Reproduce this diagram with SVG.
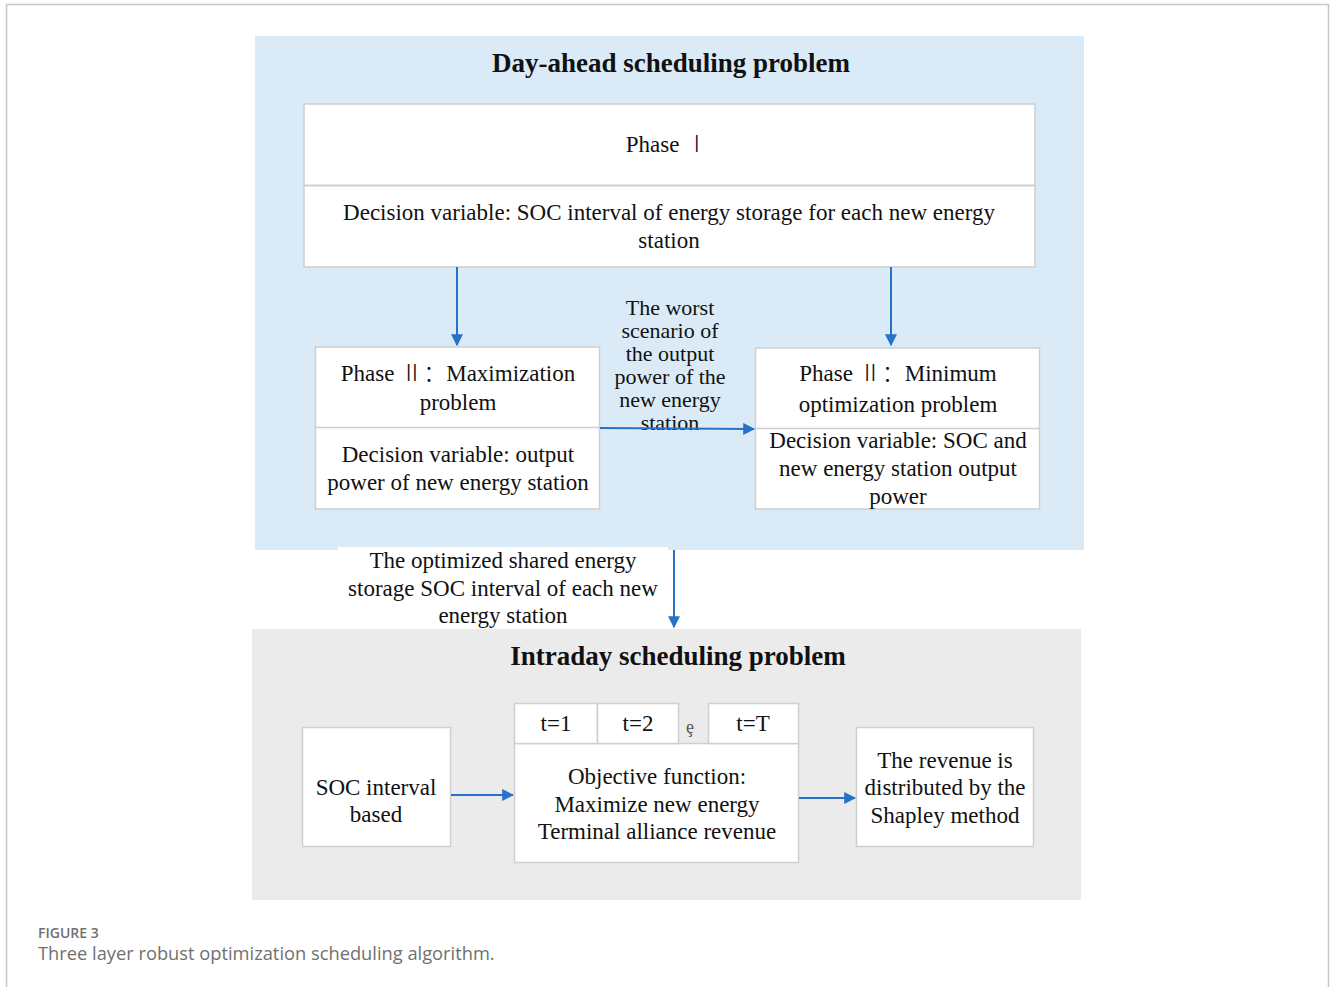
<svg xmlns="http://www.w3.org/2000/svg" width="1330" height="987" viewBox="0 0 1330 987">
<defs>
<style>
.t{font-family:"Liberation Serif","Times New Roman",serif;font-size:23px;fill:#111;text-anchor:middle}
.w{font-size:22px}
.h{font-family:"Liberation Serif","Times New Roman",serif;font-size:27px;font-weight:bold;fill:#111;text-anchor:middle}
.cjk{font-family:"Noto Sans CJK SC","Noto Sans CJK JP",serif;font-weight:300}
.box{fill:#fff;stroke:#cfcfcf;stroke-width:1.5}
.c{stroke:#2672c8;stroke-width:2;fill:none;marker-end:url(#ah)}
</style>
<marker id="ah" viewBox="0 0 10 10" refX="9" refY="5" markerWidth="6" markerHeight="6" orient="auto" markerUnits="strokeWidth">
<path d="M0,0 L10,5 L0,10 z" fill="#2672c8"/>
</marker>
</defs>
<rect x="0" y="0" width="1330" height="987" fill="#fff"/>
<path d="M6.5,987 V4.5 H1328.5 V987" fill="none" stroke="#c8c8c8" stroke-width="1.5"/>

<g id="dayahead">
<rect x="255" y="36" width="829" height="514" fill="#daebf7"/>
<text class="h" x="671" y="72">Day-ahead scheduling problem</text>
</g>
<g id="intraday">
<rect x="252" y="629" width="829" height="271" fill="#ebebeb"/>
<text class="h" x="678" y="665">Intraday scheduling problem</text>
</g>

<g id="phase1">
<rect class="box" x="304" y="104" width="731" height="163"/>
<line x1="304" y1="185.5" x2="1035" y2="185.5" stroke="#cfcfcf" stroke-width="2"/>
<text class="t" x="667" y="152">Phase <tspan class="cjk">  Ⅰ</tspan></text>
<text class="t" x="669" y="220">Decision variable: SOC interval of energy storage for each new energy</text>
<text class="t" x="669" y="248">station</text>
</g>

<g id="phase2max">
<rect class="box" x="315.5" y="347" width="284" height="162"/>
<line x1="315.5" y1="427.5" x2="599.5" y2="427.5" stroke="#cfcfcf" stroke-width="1.5"/>
<text class="t" x="458" y="381">Phase <tspan class="cjk">Ⅱ：</tspan>Maximization</text>
<text class="t" x="458" y="410">problem</text>
<text class="t" x="458" y="462">Decision variable: output</text>
<text class="t" x="458" y="490">power of new energy station</text>
</g>

<g id="phase2min">
<rect class="box" x="755.5" y="348" width="284" height="161"/>
<line x1="755.5" y1="428.5" x2="1039.5" y2="428.5" stroke="#cfcfcf" stroke-width="1.5"/>
<text class="t" x="898" y="381">Phase <tspan class="cjk">Ⅱ：</tspan>Minimum</text>
<text class="t" x="898" y="412">optimization problem</text>
<text class="t" x="898" y="448">Decision variable: SOC and</text>
<text class="t" x="898" y="476">new energy station output</text>
<text class="t" x="898" y="504">power</text>
</g>

<g id="worst-label">
<text class="t w" x="670" y="315">The worst</text>
<text class="t w" x="670" y="338">scenario of</text>
<text class="t w" x="670" y="361">the output</text>
<text class="t w" x="670" y="384">power of the</text>
<text class="t w" x="670" y="407">new energy</text>
<text class="t w" x="670" y="430">station</text>
</g>

<g id="soc-label">
<rect x="338" y="547" width="330" height="80" fill="#fff"/>
<text class="t" x="503" y="568">The optimized shared energy</text>
<text class="t" x="503" y="596">storage SOC interval of each new</text>
<text class="t" x="503" y="623">energy station</text>
</g>

<g id="socbased">
<rect class="box" x="302.5" y="727.5" width="148" height="119"/>
<text class="t" x="376" y="795">SOC interval</text>
<text class="t" x="376" y="822">based</text>
</g>

<g id="objective">
<rect class="box" x="514.5" y="743.5" width="284" height="119"/>
<rect class="box" x="514.5" y="703.5" width="83" height="40"/>
<rect class="box" x="597.5" y="703.5" width="81" height="40"/>
<rect class="box" x="708.5" y="703.5" width="90" height="40"/>
<text class="t" x="556" y="731">t=1</text>
<text class="t" x="638" y="731">t=2</text>
<text class="t" x="690" y="733" style="font-size:18px;fill:#555">ȩ</text>
<text class="t" x="753" y="731">t=T</text>
<text class="t" x="657" y="784">Objective function:</text>
<text class="t" x="657" y="812">Maximize new energy</text>
<text class="t" x="657" y="839">Terminal alliance revenue</text>
</g>

<g id="revenue">
<rect class="box" x="856.5" y="727.5" width="177" height="119"/>
<text class="t" x="945" y="768">The revenue is</text>
<text class="t" x="945" y="795">distributed by the</text>
<text class="t" x="945" y="823">Shapley method</text>
</g>

<g id="connectors">
<line class="c" x1="457" y1="267" x2="457" y2="345"/>
<line class="c" x1="891" y1="267" x2="891" y2="345"/>
<line class="c" x1="600" y1="428" x2="754" y2="429"/>
<line class="c" x1="674" y1="550" x2="674" y2="627"/>
<line class="c" x1="451" y1="795" x2="513" y2="795"/>
<line class="c" x1="799" y1="798" x2="855" y2="798"/>
</g>

<g id="caption">
<text x="38" y="938" style="font-family:'Open Sans','Noto Sans',sans-serif;font-size:14px;font-weight:600;fill:#707070">FIGURE 3</text>
<text x="38" y="960" style="font-family:'Open Sans','Noto Sans',sans-serif;font-size:18.3px;fill:#707070">Three layer robust optimization scheduling algorithm.</text>
</g>
</svg>
